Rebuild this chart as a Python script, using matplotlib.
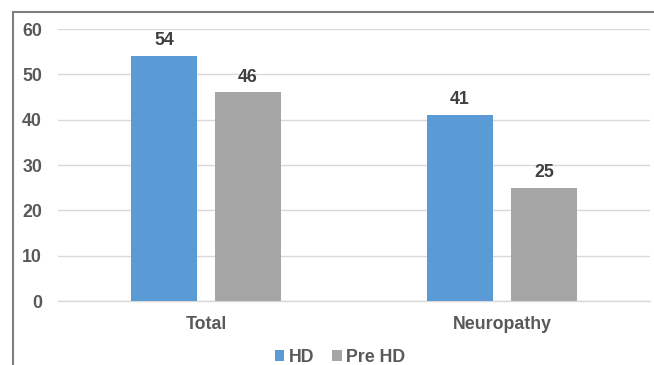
#!/usr/bin/env python3
"""Grouped bar chart: HD vs Pre HD percentages."""

import numpy as np
import matplotlib.pyplot as plt
from matplotlib.lines import Line2D

categories = ["Total", "Neuropathy"]
hd_values = [54, 41]
pre_hd_values = [46, 25]
y_ticks = [0, 10, 20, 30, 40, 50, 60]

BLUE = "#5B9BD5"
GRAY = "#A5A5A5"
TEXT = "#595959"
LABEL = "#404040"
FS = 12.8

plt.rcParams["font.family"] = ["Liberation Sans", "DejaVu Sans"]


def main():
    fig = plt.figure(figsize=(6.54, 3.65), dpi=100)
    W, H = 654, 365
    ax = fig.add_axes([58 / W, 1 - 301 / H, 592 / W, 272 / H])

    x = np.arange(len(categories))
    width = 0.223
    offset = 0.142
    b1 = ax.bar(x - offset, hd_values, width, color=BLUE, label="HD", zorder=3)
    b2 = ax.bar(x + offset, pre_hd_values, width, color=GRAY, label="Pre HD", zorder=3)

    for bars in (b1, b2):
        ax.bar_label(bars, padding=5, fontsize=FS, fontweight="bold", color=LABEL)

    ax.set_xlim(-0.5, len(categories) - 0.5)
    ax.set_ylim(0, 60)
    ax.set_yticks(y_ticks)
    ax.set_xticks(x)
    ax.set_xticklabels(categories)
    ax.grid(axis="y", color="#D9D9D9", linewidth=1, zorder=0)
    ax.axhline(0, color="#D9D9D9", linewidth=1, zorder=1, clip_on=False)
    for s in ax.spines.values():
        s.set_visible(False)
    ax.tick_params(axis="both", length=0, labelsize=FS, colors=TEXT)
    ax.tick_params(axis="y", pad=11.5)
    ax.tick_params(axis="x", pad=10.5)
    for lbl in ax.get_xticklabels() + ax.get_yticklabels():
        lbl.set_fontweight("bold")

    leg = fig.legend(
        handles=[b1, b2],
        labels=["HD", "Pre HD"],
        loc="center",
        bbox_to_anchor=(0.52, 1 - 357 / H),
        ncol=2,
        frameon=False,
        handlelength=0.55,
        handleheight=0.55,
        handletextpad=0.25,
        columnspacing=1.0,
        prop={"size": FS, "weight": "bold"},
    )
    for t in leg.get_texts():
        t.set_color(TEXT)

    # outer frame, left and top edges only
    fig.add_artist(Line2D([13 / W, 13 / W], [0, 1 - 12 / H], transform=fig.transFigure,
                          color="#7F7F7F", linewidth=1.5))
    fig.add_artist(Line2D([13 / W, 1], [1 - 12 / H, 1 - 12 / H], transform=fig.transFigure,
                          color="#7F7F7F", linewidth=1.5))

    fig.savefig("out.png", dpi=100)
    plt.close(fig)


if __name__ == "__main__":
    main()
